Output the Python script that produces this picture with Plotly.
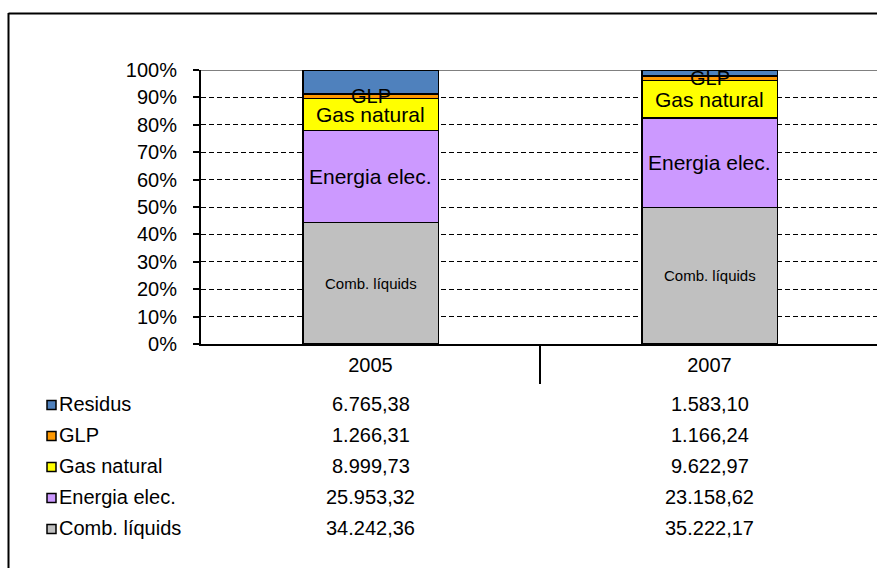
import plotly.graph_objects as go

years = ["2005", "2007"]
series_names = ["Comb. líquids", "Energia elec.", "Gas natural", "GLP", "Residus"]
comb_liquids = [34242.36, 35222.17]
energia_elec = [25953.32, 23158.62]
gas_natural = [8999.73, 9622.97]
glp = [1266.31, 1166.24]
residus = [6765.38, 1583.10]
value_labels = {
    "Residus": ["6.765,38", "1.583,10"],
    "GLP": ["1.266,31", "1.166,24"],
    "Gas natural": ["8.999,73", "9.622,97"],
    "Energia elec.": ["25.953,32", "23.158,62"],
    "Comb. líquids": ["34.242,36", "35.222,17"],
}

series_values = [comb_liquids, energia_elec, gas_natural, glp, residus]
colors = ["#C0C0C0", "#CC99FF", "#FFFF00", "#FF9900", "#4F81BD"]
FONT = "Liberation Sans, Arial, sans-serif"

W, H = 877, 568
L, T, B_PX = 201, 70, 344  # plot area left, top, bottom in px
PW = W - L
PH = B_PX - T


def px(x):
    return (x - L) / PW


def py(y):
    return (B_PX - y) / PH


fig = go.Figure()
for name, vals, col in zip(series_names, series_values, colors):
    fig.add_trace(go.Bar(
        x=years, y=vals, name=name, width=0.4,
        marker=dict(color=col, line=dict(color="black", width=1.6)),
        showlegend=False, hoverinfo="skip",
    ))

annotations = []
# in-bar labels (centred on segments, computed from data shares)
label_sizes = {"Comb. líquids": 15, "Energia elec.": 21, "Gas natural": 21, "GLP": 20}
for i, yr in enumerate(years):
    total = sum(s[i] for s in series_values)
    cum = 0.0
    for name, vals in zip(series_names, series_values):
        share = vals[i] / total * 100
        mid = cum + share / 2
        cum += share
        if name in label_sizes:
            annotations.append(dict(
                x=i, y=mid, xref="x", yref="y", text=name, showarrow=False,
                xanchor="center", yanchor="middle",
                font=dict(family=FONT, size=label_sizes[name], color="black"),
            ))

# data table below the chart
row_order = ["Residus", "GLP", "Gas natural", "Energia elec.", "Comb. líquids"]
row_colors = {n: c for n, c in zip(series_names, colors)}
row_y = [404, 435, 466, 497, 528]
shapes = []
for name, yy in zip(row_order, row_y):
    annotations.append(dict(
        x=px(57), y=py(yy), xref="paper", yref="paper", xanchor="left", yanchor="middle",
        text=name, showarrow=False, font=dict(family=FONT, size=20, color="black"),
    ))
    shapes.append(dict(
        type="rect", xref="paper", yref="paper",
        x0=px(47), x1=px(56), y0=py(yy - 3.5), y1=py(yy + 5.5),
        fillcolor=row_colors[name], line=dict(color="black", width=1.5),
    ))
    for i, yr in enumerate(years):
        annotations.append(dict(
            x=i, y=py(yy), xref="x", yref="paper", xanchor="center", yanchor="middle",
            text=value_labels[name][i], showarrow=False,
            font=dict(family=FONT, size=20, color="black"),
        ))

# outer chart border (left and top visible)
shapes.append(dict(type="line", xref="paper", yref="paper",
                   x0=px(8.5), x1=px(8.5), y0=py(13), y1=py(580),
                   line=dict(color="black", width=2)))
shapes.append(dict(type="line", xref="paper", yref="paper",
                   x0=px(8.5), x1=px(890), y0=py(13.5), y1=py(13.5),
                   line=dict(color="black", width=2)))
# gray plot-area top border
shapes.append(dict(type="line", xref="paper", yref="y", layer="between",
                   x0=0, x1=1.02, y0=100, y1=100,
                   line=dict(color="#808080", width=2)))
# category separator tick
shapes.append(dict(type="line", xref="x", yref="paper",
                   x0=0.5, x1=0.5, y0=0, y1=py(384),
                   line=dict(color="black", width=2)))

fig.update_layout(
    width=W, height=H,
    barmode="stack", barnorm="percent",
    margin=dict(l=L, r=0, t=T, b=H - B_PX, pad=0),
    paper_bgcolor="white", plot_bgcolor="white",
    font=dict(family=FONT, size=20, color="black"),
    annotations=annotations, shapes=shapes,
    xaxis=dict(
        type="category", range=[-0.5, 1.5 - 2 / 339],
        showline=True, linecolor="black", linewidth=2,
        showgrid=False, ticks="", ticklabelstandoff=2,
        tickfont=dict(family=FONT, size=20, color="black"),
        zeroline=False,
    ),
    yaxis=dict(
        range=[0, 100], dtick=10, ticksuffix="%",
        showline=True, linecolor="black", linewidth=2,
        ticks="outside", ticklen=6, tickwidth=1.5, tickcolor="black",
        showgrid=True, gridcolor="black", gridwidth=1.2, griddash="5px,3px",
        zeroline=False, ticklabelstandoff=12,
        tickfont=dict(family=FONT, size=20, color="black"),
    ),
)

fig.write_html(
    "out.html",
    config={"displayModeBar": False},
    post_script="document.body.style.margin='0';document.body.style.overflow='hidden';",
)
